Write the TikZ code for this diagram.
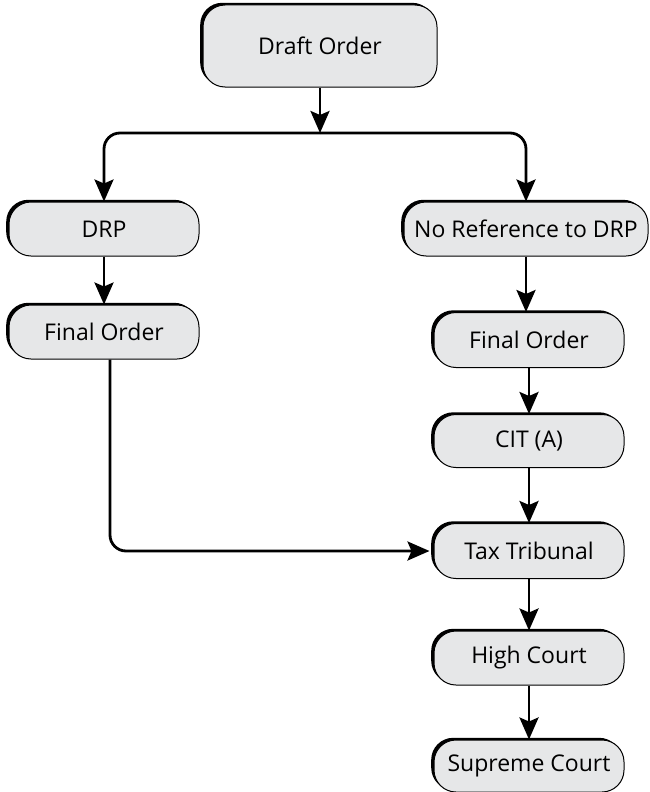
\documentclass[tikz,border=0pt]{standalone}
\usepackage{fontspec}
\setmainfont{Open Sans}
\usetikzlibrary{arrows.meta,shadows,calc}
\definecolor{boxfill}{HTML}{E6E7E8}
\tikzset{
  box/.style={draw=black, line width=1pt, fill=boxfill, rounded corners=22pt,
    general shadow={fill=black, shadow xshift=-2.8pt, shadow yshift=2.2pt},
    inner sep=0pt, font=\fontsize{23}{26}\selectfont, text=black},
  arr/.style={line width=2.8pt, -{Stealth[length=22pt,width=19pt,inset=4pt]}},
}
\begin{document}
\begin{tikzpicture}[x=1pt,y=-1pt]
\useasboundingbox (0,0) rectangle (650,792);
\node[box, minimum width=234pt, minimum height=82pt] (draft) at (320,46) {Draft Order};
\node[box, minimum width=190pt, minimum height=54pt] (drp) at (104,229) {DRP};
\node[box, minimum width=190pt, minimum height=54pt] (fol) at (104,332) {Final Order};
\node[box, minimum width=244pt, minimum height=54pt] (noref) at (526,229) {No Reference to DRP};
\node[box, minimum width=190pt, minimum height=55pt] (for) at (529,340) {Final Order};
\node[box, minimum width=190pt, minimum height=53pt] (cit) at (529,441) {CIT (A)};
\node[box, minimum width=190pt, minimum height=55pt] (tax) at (529,551) {Tax Tribunal};
\node[box, minimum width=190pt, minimum height=54pt] (high) at (529,658) {High Court};
\node[box, minimum width=190pt, minimum height=52pt] (sup) at (529,766) {Supreme Court};
\coordinate (split) at (320,133);
\draw[arr] (draft.south) -- (split);
\draw[arr, rounded corners=16pt] (split) -| (drp.north);
\draw[arr, rounded corners=16pt] (split) -| (noref.north);
\draw[arr] (drp) -- (fol);
\draw[arr] (noref.south) -- (noref.south |- for.north);
\draw[arr] (for) -- (cit);
\draw[arr] (cit) -- (tax);
\draw[arr] (tax) -- (high);
\draw[arr] (high) -- (sup);
\draw[arr, rounded corners=16pt] ([xshift=6pt]fol.south) |- ([xshift=-4pt]tax.west);
\end{tikzpicture}
\end{document}
